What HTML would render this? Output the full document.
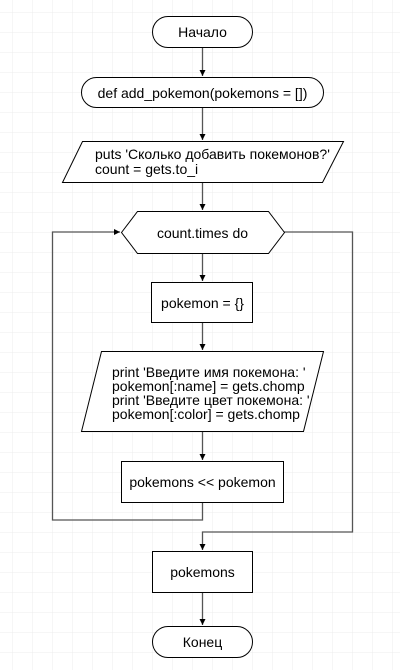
<!DOCTYPE html>
<html><head><meta charset="utf-8"><style>
html,body{margin:0;padding:0;background:#fff;}
svg{display:block;}
text{font-family:"Liberation Sans",Arial,sans-serif;font-size:14px;fill:#000;}
</style></head><body>
<svg width="400" height="670" viewBox="0 0 400 670" xmlns="http://www.w3.org/2000/svg">
<defs>
<pattern id="g" x="12" y="12" width="20" height="20" patternUnits="userSpaceOnUse">
<path d="M0 0H20M0 0V20" stroke="#ececec" stroke-width="1" fill="none"/>
</pattern>
<marker id="a" markerWidth="8" markerHeight="8" refX="6" refY="4" orient="auto" markerUnits="userSpaceOnUse">
<path d="M0 1 L6 4 L0 7 Z" fill="#000"/>
</marker>
</defs>
<rect x="0" y="0" width="400" height="670" fill="url(#g)"/>
<g stroke="#000" fill="none" stroke-width="1">
<g stroke="#555" stroke-width="1.3">
<path d="M202.5 47V76" marker-end="url(#a)"/>
<path d="M202.5 107V140" marker-end="url(#a)"/>
<path d="M202.5 182V210" marker-end="url(#a)"/>
<path d="M202.5 253V281" marker-end="url(#a)"/>
<path d="M202.5 322V350" marker-end="url(#a)"/>
<path d="M202.5 431V460" marker-end="url(#a)"/>
<path d="M202.5 502V520H52.5V232H120" marker-end="url(#a)"/>
<path d="M284 232H352.5V532H202.5V550" marker-end="url(#a)"/>
<path d="M202.5 592V625" marker-end="url(#a)"/>
</g>
<rect x="152.5" y="16.5" width="100" height="31" rx="15.5" fill="#fff"/>
<rect x="81.5" y="77.5" width="242" height="30" rx="15" fill="#fff"/>
<path d="M82.5 141.5H343.5L322.5 182.5H62.5Z" fill="#fff"/>
<path d="M121.5 232.5L137.5 211.5H268.5L284.5 232.5L268.5 253.5H137.5Z" fill="#fff"/>
<rect x="151.5" y="282.5" width="101" height="40" fill="#fff"/>
<path d="M101.5 351.5H323.5L303.5 431.5H81.5Z" fill="#fff"/>
<rect x="121.5" y="461.5" width="162" height="41" fill="#fff"/>
<rect x="152.5" y="551.5" width="100" height="41" fill="#fff"/>
<rect x="152.5" y="626.5" width="100" height="31" rx="15.5" fill="#fff"/>
</g>
<text x="202.5" y="37" text-anchor="middle">Начало</text>
<text x="202.5" y="98" text-anchor="middle">def add_pokemon(pokemons = [])</text>
<text x="95" y="159">puts 'Сколько добавить покемонов?'</text>
<text x="95" y="174">count = gets.to_i</text>
<text x="202.5" y="238" text-anchor="middle">count.times do</text>
<text x="202.5" y="308" text-anchor="middle">pokemon = {}</text>
<text x="112" y="377">print 'Введите имя покемона: '</text>
<text x="112" y="391">pokemon[:name] = gets.chomp</text>
<text x="112" y="405">print 'Введите цвет покемона: '</text>
<text x="112" y="419">pokemon[:color] = gets.chomp</text>
<text x="202.5" y="487" text-anchor="middle">pokemons &lt;&lt; pokemon</text>
<text x="202.5" y="577" text-anchor="middle">pokemons</text>
<text x="202.5" y="647" text-anchor="middle">Конец</text>
</svg>
</body></html>
